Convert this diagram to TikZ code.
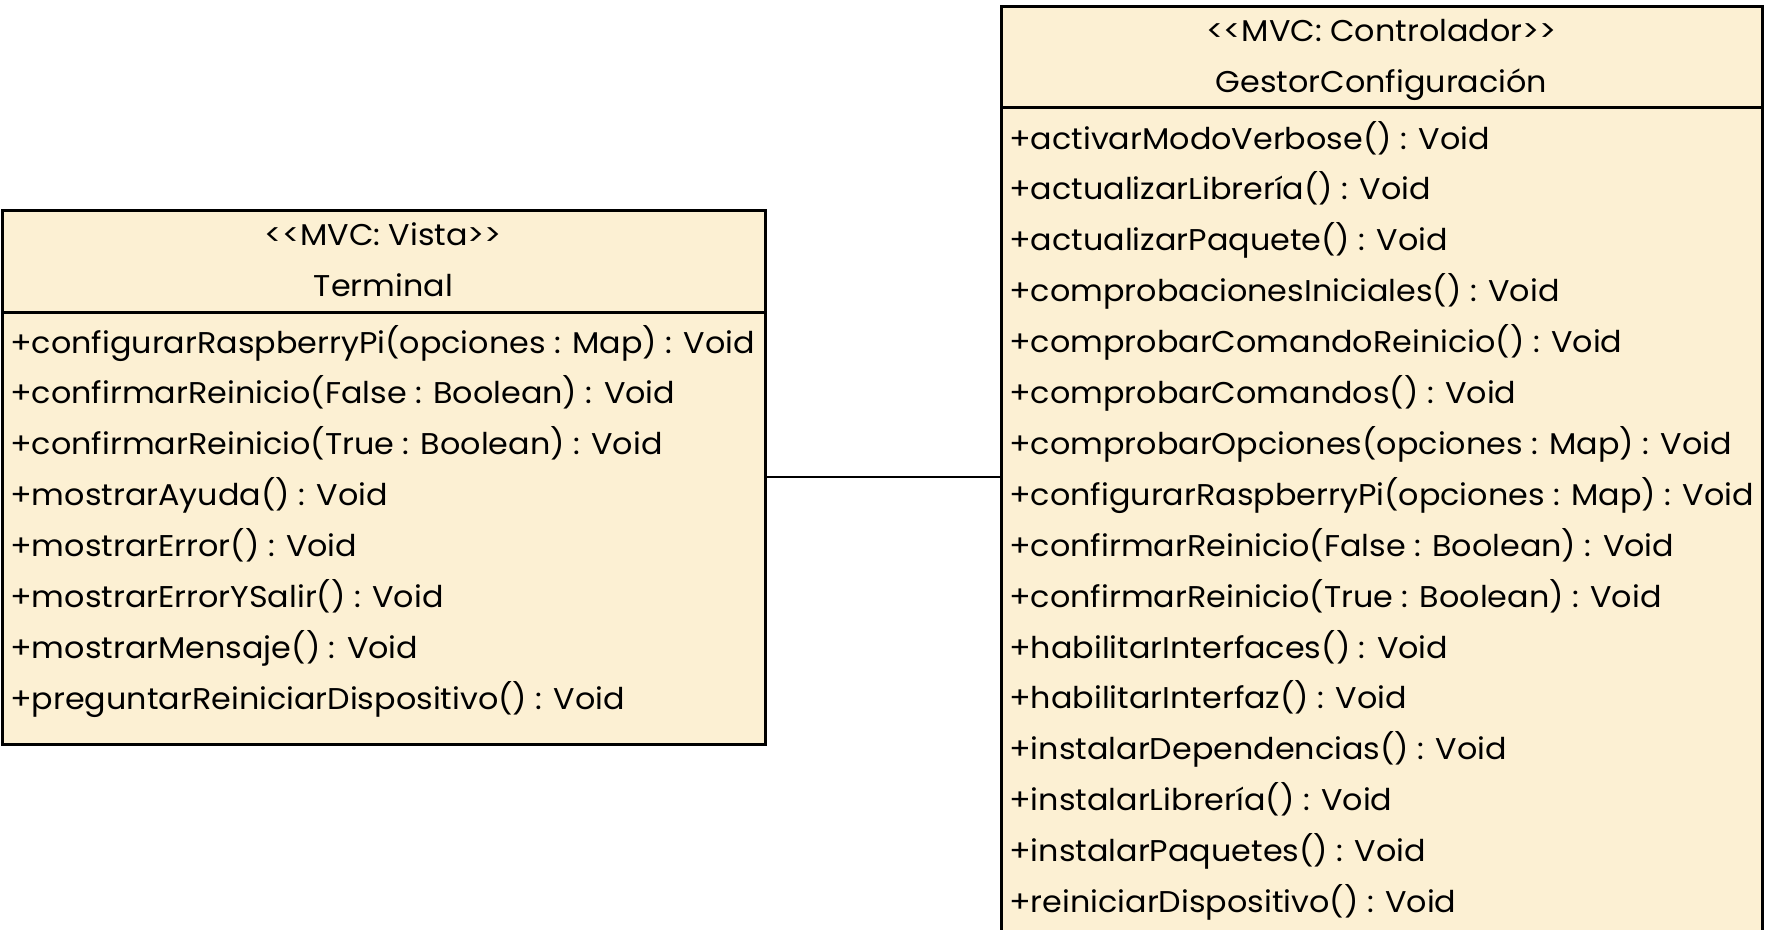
\documentclass[tikz,border=0pt]{standalone}
\usepackage{fontspec}
\setmainfont{Poppins}[WordSpace=1.0, FakeStretch=1.06]
\definecolor{cream}{RGB}{252,240,211}
\tikzset{
  classbox/.style={draw=black, fill=cream, line width=3pt, rectangle, inner sep=0pt},
  divider/.style={line width=3pt},
  member/.style={anchor=base west, inner sep=0pt, font=\fontsize{30}{36}\selectfont},
  header/.style={anchor=base, inner sep=0pt, font=\fontsize{30}{36}\selectfont},
  assoc/.style={line width=2.5pt}
}
\begin{document}
\begin{tikzpicture}[x=1pt,y=-1pt]
\useasboundingbox (0,0) rectangle (1772,929);
\clip (0,0) rectangle (1772,929);
% Terminal
\node[classbox, minimum width=763pt, minimum height=534pt] (term) at (383.5,477) {};
\draw[divider] (2,312) coordinate (td1) -- (765,312) coordinate (td2);
\node[header] (tst) at (383.5,245) {<{}<MVC: Vista>{}>};
\node[header] (tname) at (383.5,296) {Terminal};
\foreach \t [count=\i from 0] in {
  {+configurarRaspberryPi(opciones : Map) : Void},
  {+confirmarReinicio(False : Boolean) : Void},
  {+confirmarReinicio(True : Boolean) : Void},
  {+mostrarAyuda() : Void},
  {+mostrarError() : Void},
  {+mostrarErrorYSalir() : Void},
  {+mostrarMensaje() : Void},
  {+preguntarReiniciarDispositivo() : Void}}
  \node[member] (tm\i) at (10,353+50.9*\i) {\t};
% GestorConfiguracion
\node[classbox, minimum width=761pt, minimum height=942pt] (gest) at (1381.5,477) {};
\draw[divider] (1001,107) coordinate (gd1) -- (1762,107) coordinate (gd2);
\node[header] (gst) at (1381.5,41) {<{}<MVC: Controlador>{}>};
\node[header] (gname) at (1381.5,92) {GestorConfiguración};
\foreach \t [count=\i from 0] in {
  {+activarModoVerbose() : Void},
  {+actualizarLibrería() : Void},
  {+actualizarPaquete() : Void},
  {+comprobacionesIniciales() : Void},
  {+comprobarComandoReinicio() : Void},
  {+comprobarComandos() : Void},
  {+comprobarOpciones(opciones : Map) : Void},
  {+configurarRaspberryPi(opciones : Map) : Void},
  {+confirmarReinicio(False : Boolean) : Void},
  {+confirmarReinicio(True : Boolean) : Void},
  {+habilitarInterfaces() : Void},
  {+habilitarInterfaz() : Void},
  {+instalarDependencias() : Void},
  {+instalarLibrería() : Void},
  {+instalarPaquetes() : Void},
  {+reiniciarDispositivo() : Void}}
  \node[member] (gm\i) at (1009,149+50.9*\i) {\t};
% association
\draw[assoc] (term.east) -- (gest.west);
\end{tikzpicture}
\end{document}
